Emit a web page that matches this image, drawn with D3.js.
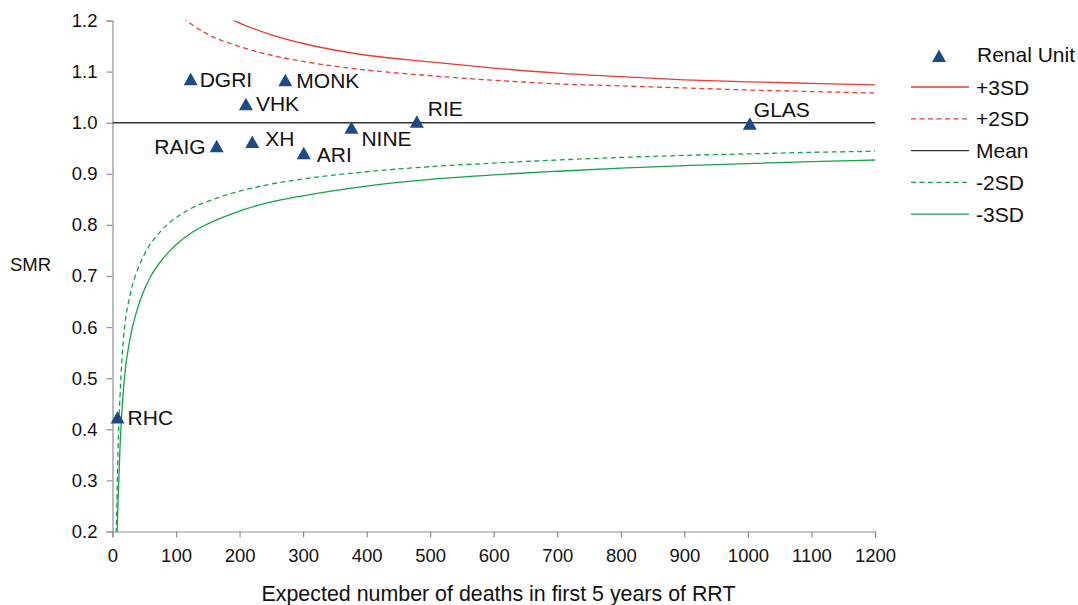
<!DOCTYPE html>
<html>
<head>
<meta charset="utf-8">
<script src="https://cdn.jsdelivr.net/npm/d3@7"></script>
<style>
  body { margin: 0; background: #fff; }
  text { font-family: "Liberation Sans", Arial, sans-serif; fill: #111; }
</style>
</head>
<body>
<svg class="chart"></svg>
<script>
// renal units: expected deaths vs SMR
var unitNames = ["RHC", "DGRI", "RAIG", "VHK", "XH", "MONK", "ARI", "NINE", "RIE", "GLAS"];
var unitExpected = [8, 123, 164, 210, 220, 272, 301, 376, 479, 1003];
var unitSMR = [0.423, 1.085, 0.954, 1.036, 0.962, 1.083, 0.940, 0.990, 1.002, 0.998];

// funnel limits
var limitExpected = [5, 7, 9, 12, 15, 20, 25, 30, 40, 50, 60, 80, 100, 125, 150, 200, 250, 300, 400, 500, 600, 700, 800, 900, 1000, 1100, 1200];
var upper3 = [null, null, null, null, null, null, null, null, null, null, null, null, null, null, 1.228, 1.195, 1.172, 1.155, 1.132, 1.119, 1.107, 1.097, 1.090, 1.084, 1.080, 1.077, 1.074];
var upper2 = [null, null, null, null, null, null, null, null, null, null, null, null, 1.216, 1.192, 1.173, 1.149, 1.132, 1.120, 1.103, 1.092, 1.083, 1.076, 1.072, 1.068, 1.064, 1.061, 1.058];
var meanLine = [1, 1, 1, 1, 1, 1, 1, 1, 1, 1, 1, 1, 1, 1, 1, 1, 1, 1, 1, 1, 1, 1, 1, 1, 1, 1, 1];
var lower2 = [0.13, 0.26, 0.37, 0.47, 0.54, 0.61, 0.647, 0.675, 0.714, 0.742, 0.763, 0.793, 0.814, 0.833, 0.846, 0.866, 0.880, 0.890, 0.904, 0.914, 0.921, 0.927, 0.932, 0.936, 0.939, 0.942, 0.944];
var lower3 = [0.09, 0.19, 0.27, 0.37, 0.44, 0.515, 0.559, 0.592, 0.639, 0.673, 0.699, 0.735, 0.761, 0.785, 0.802, 0.827, 0.845, 0.857, 0.876, 0.889, 0.898, 0.905, 0.911, 0.916, 0.920, 0.924, 0.927];

var xTicks = [0, 100, 200, 300, 400, 500, 600, 700, 800, 900, 1000, 1100, 1200];
var yTicks = [0.2, 0.3, 0.4, 0.5, 0.6, 0.7, 0.8, 0.9, 1.0, 1.1, 1.2];

// where each unit label sits relative to its marker
var labelPlace = {
  RHC: {dx: 10, dy: 0, anchor: "start"},
  DGRI: {dx: 9, dy: 0, anchor: "start"},
  RAIG: {dx: -11, dy: 0, anchor: "end"},
  VHK: {dx: 10, dy: -1, anchor: "start"},
  XH: {dx: 13, dy: -4, anchor: "start"},
  MONK: {dx: 11, dy: 0, anchor: "start"},
  ARI: {dx: 13, dy: 1, anchor: "start"},
  NINE: {dx: 10, dy: 11, anchor: "start"},
  RIE: {dx: 11, dy: -13, anchor: "start"},
  GLAS: {dx: 4, dy: -14, anchor: "start"}
};

var series = [
  {name: "+3SD", values: upper3, color: "#ee3a36", dash: null},
  {name: "+2SD", values: upper2, color: "#ee3a36", dash: "5,3.5"},
  {name: "Mean", values: meanLine, color: "#333333", dash: null},
  {name: "-2SD", values: lower2, color: "#15a24a", dash: "5,3.5"},
  {name: "-3SD", values: lower3, color: "#15a24a", dash: null}
];

var width = 1078, height = 605,
  margin = {top: 20.5, right: 203, bottom: 73.5, left: 112.5},
  plotW = width - margin.left - margin.right,
  plotH = height - margin.top - margin.bottom,
  tickSize = 18.5,
  labelSize = 21,
  markerColor = "#1c4a86",
  axisColor = "#8f8f8f";

var svg = d3.select(".chart")
  .attr("width", width)
  .attr("height", height);

var xScale = d3.scaleLinear().domain([0, 1200]).range([0, plotW]);
var yScale = d3.scaleLinear().domain([0.2, 1.2]).range([plotH, 0]);

var g = svg.append("g")
  .attr("transform", "translate(" + margin.left + "," + margin.top + ")");

svg.append("defs").append("clipPath").attr("id", "plotclip")
  .append("rect")
  .attr("x", 0).attr("y", 0)
  .attr("width", plotW).attr("height", plotH);

// axes
var xAxis = g.append("g")
  .attr("transform", "translate(0," + plotH + ")")
  .call(d3.axisBottom(xScale).tickValues(xTicks).tickSize(6).tickPadding(11).tickFormat(d3.format("d")));
var yAxis = g.append("g")
  .call(d3.axisLeft(yScale).tickValues(yTicks).tickSize(6).tickPadding(9).tickFormat(d3.format(".1f")));

[xAxis, yAxis].forEach(function(ax){
  ax.select(".domain").attr("stroke", axisColor).attr("stroke-width", 1.2);
  ax.selectAll(".tick line").attr("stroke", axisColor).attr("stroke-width", 1.2);
  ax.selectAll(".tick text")
    .attr("fill", "#111")
    .style("font-size", tickSize + "px")
    .style("font-family", "'Liberation Sans', Arial, sans-serif");
});

// limit lines
var lineGen = d3.line()
  .defined(function(d){ return d[1] != null; })
  .x(function(d){ return xScale(d[0]); })
  .y(function(d){ return yScale(d[1]); })
  .curve(d3.curveMonotoneX);

var lines = g.append("g").attr("clip-path", "url(#plotclip)");
series.forEach(function(s){
  var pts = limitExpected.map(function(e, i){ return [e, s.values[i]]; });
  if(s.name == "Mean"){
    pts = [[0, 1], [1200, 1]];
  }
  lines.append("path")
    .datum(pts)
    .attr("fill", "none")
    .attr("stroke", s.color)
    .attr("stroke-width", s.name == "Mean" ? 1.6 : 1.3)
    .attr("stroke-dasharray", s.dash)
    .attr("d", lineGen);
});

// markers + labels
var tri = "M0,-6.5L7,6L-7,6Z";
var units = unitNames.map(function(n, i){
  return {name: n, e: unitExpected[i], smr: unitSMR[i]};
});

g.selectAll(".unit")
  .data(units)
  .enter().append("path")
  .attr("class", "unit")
  .attr("d", tri)
  .attr("fill", markerColor)
  .attr("transform", function(d){ return "translate(" + xScale(d.e) + "," + yScale(d.smr) + ")"; });

g.selectAll(".unitlabel")
  .data(units)
  .enter().append("text")
  .attr("class", "unitlabel")
  .attr("x", function(d){ return xScale(d.e) + labelPlace[d.name].dx; })
  .attr("y", function(d){ return yScale(d.smr) + labelPlace[d.name].dy + 7.5; })
  .attr("text-anchor", function(d){ return labelPlace[d.name].anchor; })
  .style("font-size", labelSize + "px")
  .text(function(d){ return d.name; });

// axis titles
svg.append("text")
  .attr("x", 498.5)
  .attr("y", 601)
  .attr("text-anchor", "middle")
  .style("font-size", "21.4px")
  .text("Expected number of deaths in first 5 years of RRT");

svg.append("text")
  .attr("x", 10)
  .attr("y", 271)
  .style("font-size", "18.5px")
  .text("SMR");

// legend
var legend = svg.append("g").attr("transform", "translate(911,56)");
legend.append("path")
  .attr("d", tri)
  .attr("fill", markerColor)
  .attr("transform", "translate(28,0)");
legend.append("text")
  .attr("x", 66).attr("y", 5.5)
  .style("font-size", labelSize + "px")
  .text("Renal Unit");

series.forEach(function(s, i){
  var yy = 31 + i * 31.8;
  legend.append("line")
    .attr("x1", 0).attr("x2", 58)
    .attr("y1", yy).attr("y2", yy)
    .attr("stroke", s.color)
    .attr("stroke-width", 1.3)
    .attr("stroke-dasharray", s.dash);
  legend.append("text")
    .attr("x", 65).attr("y", yy + 7.5)
    .style("font-size", labelSize + "px")
    .text(s.name);
});
</script>
</body>
</html>
